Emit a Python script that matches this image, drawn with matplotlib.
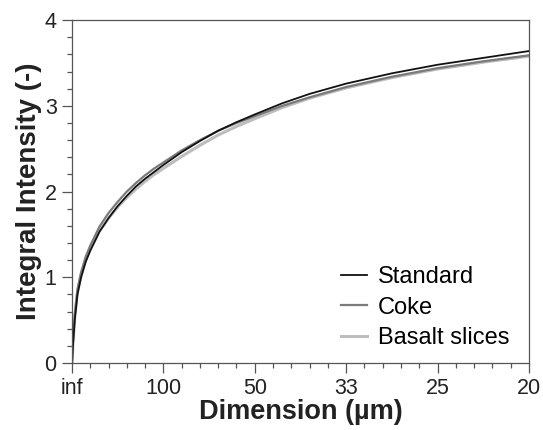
import matplotlib
matplotlib.use("Agg")
import matplotlib.pyplot as plt
from matplotlib.ticker import MultipleLocator

plt.rcParams["font.family"] = ["Liberation Sans", "DejaVu Sans"]

# reciprocal dimension (1/um) and integral intensity per sample
inv_dim = [0, 0.0001, 0.0003, 0.0006, 0.001, 0.0015, 0.002, 0.003, 0.004,
           0.005, 0.006, 0.007, 0.008, 0.009, 0.010, 0.012, 0.014, 0.016,
           0.018, 0.020, 0.023, 0.026, 0.030, 0.035, 0.040, 0.045, 0.050]
standard = [0, 0.20, 0.50, 0.80, 1.00, 1.18, 1.31, 1.53, 1.69, 1.83, 1.95,
            2.06, 2.15, 2.23, 2.31, 2.46, 2.59, 2.71, 2.81, 2.90, 3.03, 3.14,
            3.26, 3.38, 3.48, 3.56, 3.64]
coke = [0, 0.24, 0.56, 0.86, 1.06, 1.24, 1.37, 1.59, 1.75, 1.88, 2.00, 2.10,
        2.19, 2.27, 2.34, 2.48, 2.60, 2.71, 2.80, 2.88, 3.00, 3.10, 3.22,
        3.34, 3.44, 3.52, 3.59]
basalt = [0, 0.22, 0.53, 0.83, 1.03, 1.20, 1.33, 1.54, 1.69, 1.82, 1.93,
          2.03, 2.12, 2.20, 2.27, 2.41, 2.54, 2.66, 2.76, 2.85, 2.98, 3.09,
          3.21, 3.33, 3.43, 3.51, 3.58]

dim_ticks = [0, 0.01, 0.02, 0.03, 0.04, 0.05]
dim_labels = ["inf", "100", "50", "33", "25", "20"]

fig = plt.figure(figsize=(5.43, 4.30), dpi=100)
ax = fig.add_axes([0.1326, 0.156, 0.8414, 0.797])

ax.plot(inv_dim, basalt, color="#bdbdbd", lw=2.2, label="Basalt slices")
ax.plot(inv_dim, coke, color="#7a7a7a", lw=1.6, label="Coke")
ax.plot(inv_dim, standard, color="#111111", lw=1.3, label="Standard")

ax.set_xlim(0, 0.05)
ax.set_ylim(0, 4)
ax.set_xticks(dim_ticks)
ax.set_xticklabels(dim_labels)
ax.xaxis.set_minor_locator(MultipleLocator(0.002))
ax.set_yticks([0, 1, 2, 3, 4])
ax.yaxis.set_minor_locator(MultipleLocator(0.2))

for s in ax.spines.values():
    s.set_color("#555555")
    s.set_linewidth(0.9)
ax.tick_params(which="major", direction="out", length=7, width=0.9,
               color="#555555", labelsize=15.5, labelcolor="#222222", pad=4)
ax.tick_params(which="minor", direction="out", length=3.6, width=0.9,
               color="#555555")

ax.set_xlabel("Dimension (µm)", fontsize=19.5, fontweight="bold",
              color="#222222", labelpad=0)
ax.set_ylabel("Integral Intensity (-)", fontsize=20, fontweight="bold",
              color="#222222", labelpad=2)

h, l = ax.get_legend_handles_labels()
ax.legend(h[::-1], l[::-1], loc="lower right", bbox_to_anchor=(0.978, 0.013),
          frameon=False, fontsize=17, handlelength=1.1, handletextpad=0.45,
          labelspacing=0.35, borderaxespad=0)

fig.savefig("out.png", dpi=100)
